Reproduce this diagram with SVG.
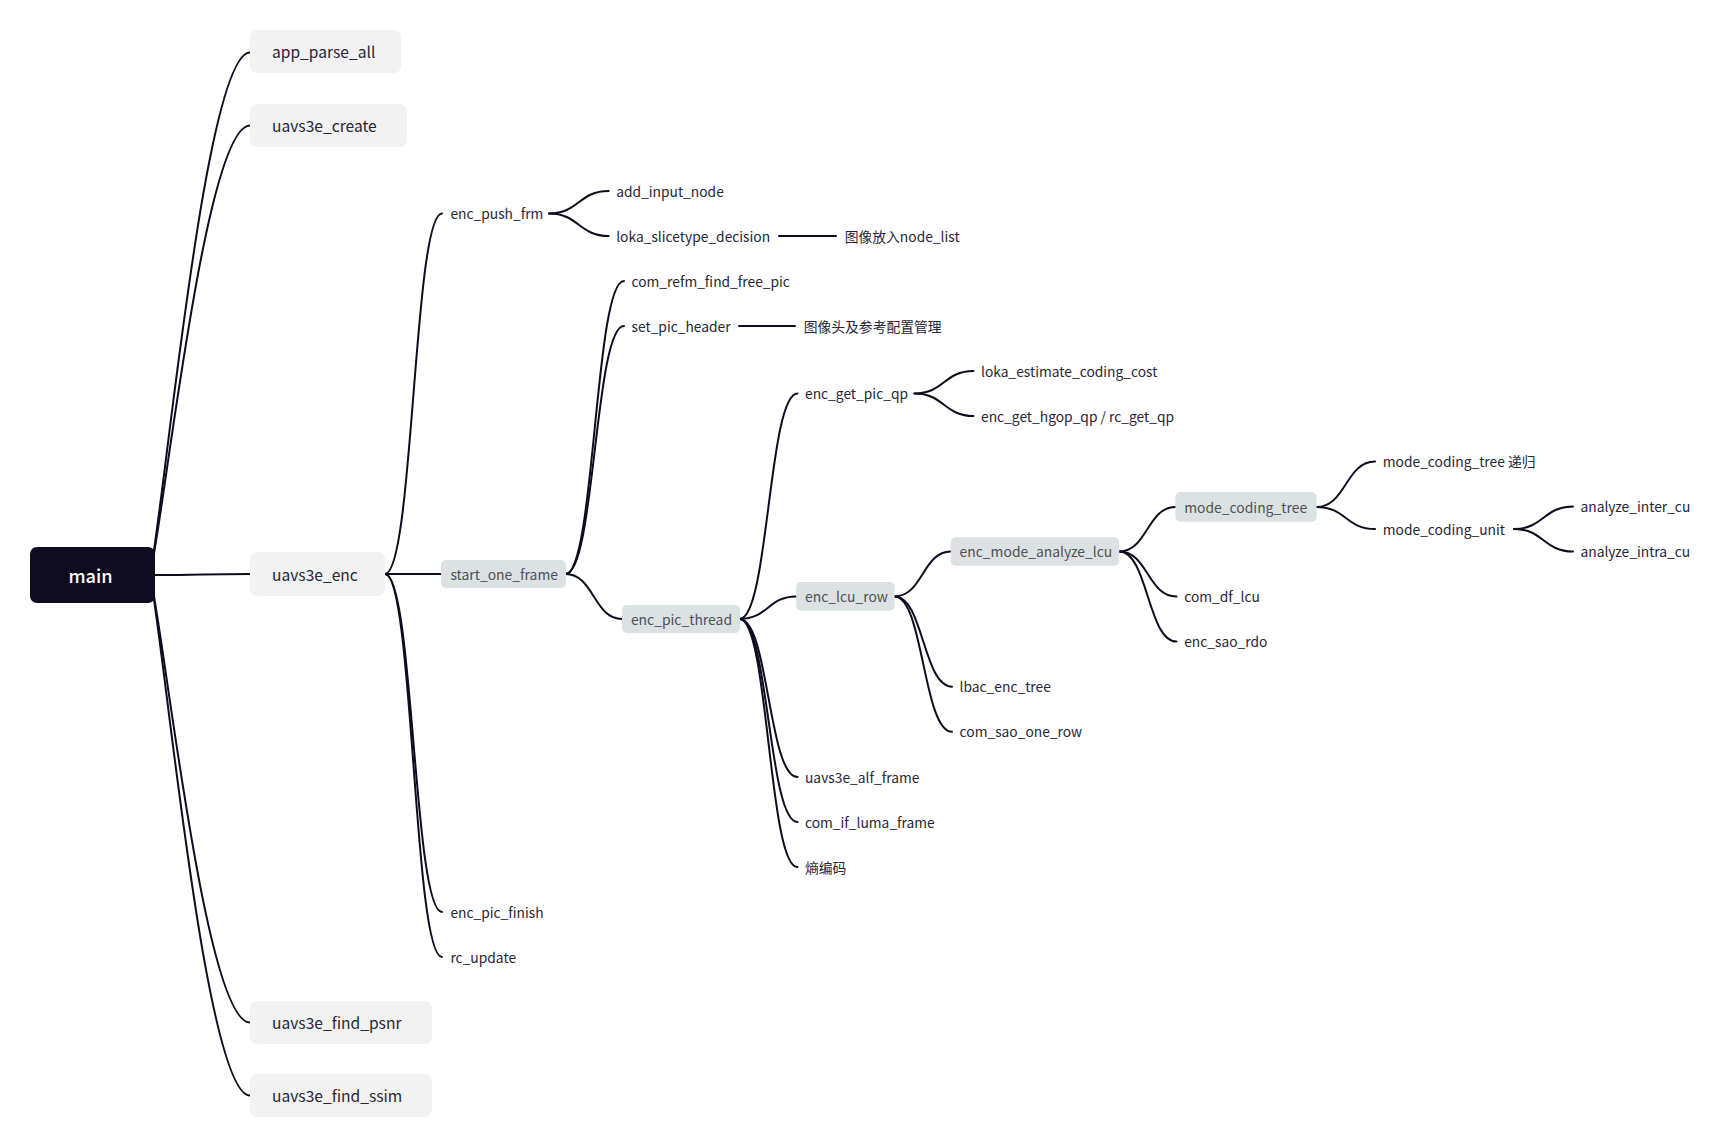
<svg xmlns="http://www.w3.org/2000/svg" width="1729" height="1148" viewBox="0 0 1729 1148">
<style>
text{font-family:"Noto Sans CJK SC","Noto Sans",sans-serif;dominant-baseline:central}
.root rect{fill:#0f0c20}
.root text{fill:#ffffff;font-size:18.2px;font-weight:500;text-anchor:middle}
.l1 rect{fill:#f2f2f2}
.l1 text{fill:#262636;font-size:15.6px}
.hl rect{fill:#dce2e3}
.hl text{fill:#4d5157;font-size:13.9px}
.pl text{fill:#262636;font-size:13.8px}
#connectors path{fill:none;stroke:#0f0c20;stroke-width:2;stroke-linecap:round}
</style>
<rect width="1729" height="1148" fill="#ffffff"/>
<g id="connectors">
<path d="M150,575 C165,500 205,52.5 250,52.5"/>
<path d="M150,575 C165,510.7 205,125.5 250,125.5"/>
<path d="M155,575 C202,575 203,574 250,574"/>
<path d="M150,575 C165,639 205,1022.5 250,1022.5"/>
<path d="M150,575 C165,649.4 205,1095.5 250,1095.5"/>
<path d="M385,574 C413.5,574 413.5,213.5 442,213.5"/>
<path d="M385,574 L441,574"/>
<path d="M385,574 C413.5,574 413.5,912 442,912"/>
<path d="M385,574 C413.5,574 413.5,957 442,957"/>
<path d="M549,213.5 C578.8,213.5 578.8,191 608.6,191"/>
<path d="M549,213.5 C578.8,213.5 578.8,236 608.6,236"/>
<path d="M779,236 L836,236"/>
<path d="M565.6,574 C594.8,574 594.8,281 624,281"/>
<path d="M565.6,574 C594.8,574 594.8,326 624,326"/>
<path d="M565.6,574 C593.8,574 593.8,619 622,619"/>
<path d="M739,326 L795,326"/>
<path d="M739.6,619 C768.5,619 768.5,393.5 797.5,393.5"/>
<path d="M739.6,619 C768,619 768,596.4 796.2,596.4"/>
<path d="M739.6,619 C768.5,619 768.5,777 797.5,777"/>
<path d="M739.6,619 C768.5,619 768.5,822 797.5,822"/>
<path d="M739.6,619 C768.5,619 768.5,867 797.5,867"/>
<path d="M914.5,393.5 C944,393.5 944,371 973.5,371"/>
<path d="M914.5,393.5 C944,393.5 944,416 973.5,416"/>
<path d="M894.6,596.4 C922.7,596.4 922.7,551.5 950.8,551.5"/>
<path d="M894.6,596.4 C923.3,596.4 923.3,686.7 952,686.7"/>
<path d="M894.6,596.4 C923.3,596.4 923.3,731.8 952,731.8"/>
<path d="M1119.2,551.5 C1147.3,551.5 1147.3,507 1175.4,507"/>
<path d="M1119.2,551.5 C1147.8,551.5 1147.8,596.5 1176.5,596.5"/>
<path d="M1119.2,551.5 C1147.8,551.5 1147.8,641.5 1176.5,641.5"/>
<path d="M1316.6,507 C1345.8,507 1345.8,461.5 1375,461.5"/>
<path d="M1316.6,507 C1345.8,507 1345.8,529 1375,529"/>
<path d="M1514,529 C1543.5,529 1543.5,506.5 1573,506.5"/>
<path d="M1514,529 C1543.5,529 1543.5,551.5 1573,551.5"/>
</g>
<g id="n-main" class="root"><rect x="30" y="547" width="125" height="56" rx="7"/><text x="90.5" y="574.5">main</text></g>
<g id="n-app_parse_all" class="l1"><rect x="250" y="30" width="151" height="43" rx="7"/><text x="272" y="51">app_parse_all</text></g>
<g id="n-uavs3e_create" class="l1"><rect x="250" y="104" width="157" height="43" rx="7"/><text x="272" y="125">uavs3e_create</text></g>
<g id="n-uavs3e_enc" class="l1"><rect x="250" y="552" width="135" height="44" rx="7"/><text x="272" y="573.5">uavs3e_enc</text></g>
<g id="n-uavs3e_find_psnr" class="l1"><rect x="250" y="1001" width="182" height="43" rx="7"/><text x="272" y="1022">uavs3e_find_psnr</text></g>
<g id="n-uavs3e_find_ssim" class="l1"><rect x="250" y="1074" width="182" height="43" rx="7"/><text x="272" y="1095">uavs3e_find_ssim</text></g>
<g id="n-enc_push_frm" class="pl"><text x="450.4" y="213">enc_push_frm</text></g>
<g id="n-start_one_frame" class="hl"><rect x="441" y="560" width="125" height="28" rx="5"/><text x="450.4" y="573.5">start_one_frame</text></g>
<g id="n-enc_pic_finish" class="pl"><text x="450.4" y="911.5">enc_pic_finish</text></g>
<g id="n-rc_update" class="pl"><text x="450.4" y="956.5">rc_update</text></g>
<g id="n-add_input_node" class="pl"><text x="616.2" y="190.5">add_input_node</text></g>
<g id="n-loka_slicetype_decision" class="pl"><text x="616.2" y="235.5">loka_slicetype_decision</text></g>
<g id="n-node_list" class="pl"><text x="844.7" y="235.5">图像放入node_list</text></g>
<g id="n-com_refm_find_free_pic" class="pl"><text x="631.5" y="280.5">com_refm_find_free_pic</text></g>
<g id="n-set_pic_header" class="pl"><text x="631.5" y="325.5">set_pic_header</text></g>
<g id="n-pic_header_note" class="pl"><text x="803.7" y="325.5">图像头及参考配置管理</text></g>
<g id="n-enc_pic_thread" class="hl"><rect x="622" y="605" width="118" height="28.3" rx="5"/><text x="630.9" y="618.5">enc_pic_thread</text></g>
<g id="n-enc_get_pic_qp" class="pl"><text x="805" y="393">enc_get_pic_qp</text></g>
<g id="n-loka_estimate_coding_cost" class="pl"><text x="981" y="370.5">loka_estimate_coding_cost</text></g>
<g id="n-enc_get_hgop_qp" class="pl"><text x="981" y="415.5">enc_get_hgop_qp / rc_get_qp</text></g>
<g id="n-enc_lcu_row" class="hl"><rect x="796.2" y="582" width="98.4" height="28.7" rx="5"/><text x="805" y="596">enc_lcu_row</text></g>
<g id="n-enc_mode_analyze_lcu" class="hl"><rect x="950.8" y="537.3" width="168.4" height="28.4" rx="5"/><text x="959.6" y="551">enc_mode_analyze_lcu</text></g>
<g id="n-lbac_enc_tree" class="pl"><text x="959.6" y="686.2">lbac_enc_tree</text></g>
<g id="n-com_sao_one_row" class="pl"><text x="959.6" y="731.3">com_sao_one_row</text></g>
<g id="n-mode_coding_tree" class="hl"><rect x="1175.4" y="492" width="141.2" height="29.7" rx="5"/><text x="1184.2" y="506.5">mode_coding_tree</text></g>
<g id="n-com_df_lcu" class="pl"><text x="1184.2" y="596">com_df_lcu</text></g>
<g id="n-enc_sao_rdo" class="pl"><text x="1184.2" y="641">enc_sao_rdo</text></g>
<g id="n-mode_coding_tree_rec" class="pl"><text x="1382.8" y="461">mode_coding_tree 递归</text></g>
<g id="n-mode_coding_unit" class="pl"><text x="1382.8" y="528.5">mode_coding_unit</text></g>
<g id="n-analyze_inter_cu" class="pl"><text x="1580.5" y="506">analyze_inter_cu</text></g>
<g id="n-analyze_intra_cu" class="pl"><text x="1580.5" y="551">analyze_intra_cu</text></g>
<g id="n-uavs3e_alf_frame" class="pl"><text x="805" y="776.5">uavs3e_alf_frame</text></g>
<g id="n-com_if_luma_frame" class="pl"><text x="805" y="821.5">com_if_luma_frame</text></g>
<g id="n-entropy" class="pl"><text x="805" y="866.5">熵编码</text></g>
</svg>
